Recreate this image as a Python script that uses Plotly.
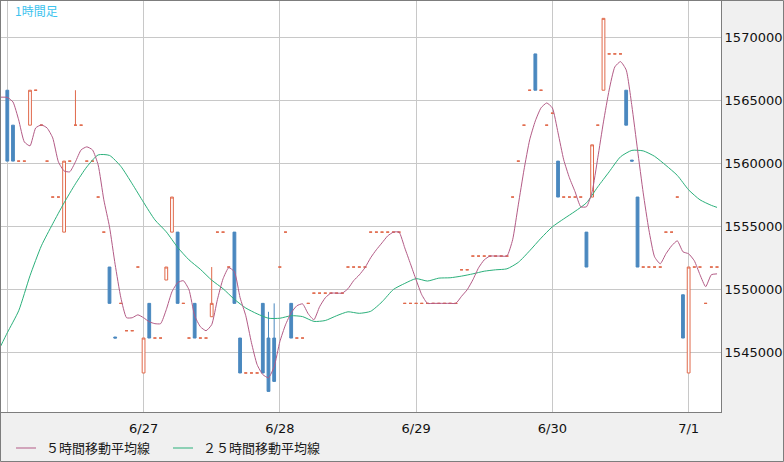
import pandas as pd
import plotly.graph_objects as go

start = pd.Timestamp("2025-06-26 00:00")

# 1時間足 (6/26 00:00 .. 7/1 05:00)
opens = [
    15658000, 15630300, 15601800, 15601800, 15630300, 15658000, 15630300, 15601800, 15573300, 15573300,
    15545500, 15601800, 15630300, 15630300, 15601800, 15601800, 15573300, 15545500, 15517800, 15462300,
    15489000, 15467300, 15467300, 15517800, 15433800, 15489000, 15461500, 15461500, 15507500, 15545500,
    15545500, 15489000, 15461500, 15489000, 15461500, 15461500, 15478400, 15545500, 15545500, 15517800,
    15545500, 15461500, 15433800, 15433800, 15433800, 15489000, 15461500, 15461500, 15517800, 15545500,
    15489000, 15461500, 15461500, 15489000, 15497100, 15497100, 15497100, 15497100, 15497100, 15497100,
    15517800, 15517800, 15517800, 15517800, 15545500, 15545500, 15545500, 15545500, 15545500, 15545500,
    15489000, 15489000, 15489000, 15489000, 15489000, 15489000, 15489000, 15489000, 15489000, 15489000,
    15515600, 15515600, 15526500, 15526500, 15526500, 15526500, 15526500, 15526500, 15526500, 15573300,
    15601800, 15630300, 15658000, 15686800, 15658000, 15630300, 15639800, 15601800, 15573300, 15573300,
    15573300, 15573300, 15545500, 15573300, 15630300, 15658000, 15686800, 15686800, 15686800, 15658000,
    15602600, 15573300, 15517800, 15517800, 15517800, 15517800, 15545500, 15545500, 15573300, 15495800,
    15433800, 15517800, 15517800, 15489000, 15517800, 15517800,
]
highs = [
    15658000, 15630300, 15601800, 15601800, 15658000, 15658000, 15630300, 15601800, 15573300, 15573300,
    15601800, 15601800, 15658000, 15630300, 15601800, 15601800, 15573300, 15545500, 15517800, 15462300,
    15489000, 15467300, 15467300, 15517800, 15461500, 15489000, 15461500, 15461500, 15517800, 15573300,
    15545500, 15489000, 15461500, 15489000, 15461500, 15461500, 15517800, 15545500, 15545500, 15517800,
    15545500, 15461500, 15433800, 15433800, 15433800, 15489000, 15482300, 15489000, 15517800, 15545500,
    15489000, 15461500, 15461500, 15489000, 15497100, 15497100, 15497100, 15497100, 15497100, 15497100,
    15517800, 15517800, 15517800, 15517800, 15545500, 15545500, 15545500, 15545500, 15545500, 15545500,
    15489000, 15489000, 15489000, 15489000, 15489000, 15489000, 15489000, 15489000, 15489000, 15489000,
    15515600, 15515600, 15526500, 15526500, 15526500, 15526500, 15526500, 15526500, 15526500, 15573300,
    15601800, 15630300, 15658000, 15686800, 15658000, 15630300, 15639800, 15601800, 15573300, 15573300,
    15573300, 15573300, 15545500, 15614700, 15630300, 15715000, 15686800, 15686800, 15686800, 15658000,
    15602600, 15573300, 15517800, 15517800, 15517800, 15517800, 15545500, 15545500, 15573300, 15495800,
    15517800, 15517800, 15517800, 15489000, 15517800, 15517800,
]
lows = [
    15601800, 15601800, 15601800, 15601800, 15630300, 15658000, 15630300, 15601800, 15573300, 15573300,
    15545500, 15601800, 15630300, 15630300, 15601800, 15601800, 15573300, 15545500, 15489000, 15461500,
    15489000, 15467300, 15467300, 15517800, 15433800, 15461500, 15461500, 15461500, 15507500, 15545500,
    15489000, 15489000, 15461500, 15461500, 15461500, 15461500, 15478400, 15545500, 15545500, 15517800,
    15489000, 15433800, 15433800, 15433800, 15433800, 15433800, 15419200, 15427100, 15517800, 15545500,
    15461500, 15461500, 15461500, 15489000, 15497100, 15497100, 15497100, 15497100, 15497100, 15497100,
    15517800, 15517800, 15517800, 15517800, 15545500, 15545500, 15545500, 15545500, 15545500, 15545500,
    15489000, 15489000, 15489000, 15489000, 15489000, 15489000, 15489000, 15489000, 15489000, 15489000,
    15515600, 15515600, 15526500, 15526500, 15526500, 15526500, 15526500, 15526500, 15526500, 15573300,
    15601800, 15630300, 15658000, 15658000, 15658000, 15630300, 15639800, 15573300, 15573300, 15573300,
    15573300, 15573300, 15517800, 15573300, 15630300, 15658000, 15686800, 15686800, 15686800, 15630300,
    15601800, 15517800, 15517800, 15517800, 15517800, 15517800, 15545500, 15545500, 15573300, 15461500,
    15433800, 15517800, 15517800, 15489000, 15517800, 15517800,
]
closes = [
    15601800, 15601800, 15601800, 15601800, 15658000, 15658000, 15630300, 15601800, 15573300, 15573300,
    15601800, 15601800, 15630300, 15630300, 15601800, 15601800, 15573300, 15545500, 15489000, 15461500,
    15489000, 15467300, 15467300, 15517800, 15461500, 15461500, 15461500, 15461500, 15517800, 15573300,
    15489000, 15489000, 15461500, 15461500, 15461500, 15461500, 15489000, 15545500, 15545500, 15517800,
    15489000, 15433800, 15433800, 15433800, 15433800, 15433800, 15419200, 15427100, 15517800, 15545500,
    15461500, 15461500, 15461500, 15489000, 15497100, 15497100, 15497100, 15497100, 15497100, 15497100,
    15517800, 15517800, 15517800, 15517800, 15545500, 15545500, 15545500, 15545500, 15545500, 15545500,
    15489000, 15489000, 15489000, 15489000, 15489000, 15489000, 15489000, 15489000, 15489000, 15489000,
    15515600, 15515600, 15526500, 15526500, 15526500, 15526500, 15526500, 15526500, 15526500, 15573300,
    15601800, 15630300, 15658000, 15658000, 15658000, 15630300, 15639800, 15573300, 15573300, 15573300,
    15573300, 15573300, 15517800, 15614700, 15630300, 15715000, 15686800, 15686800, 15686800, 15630300,
    15601800, 15517800, 15517800, 15517800, 15517800, 15517800, 15545500, 15545500, 15573300, 15461500,
    15517800, 15517800, 15517800, 15489000, 15517800, 15517800,
]

# moving averages as drawn (hours from 6/26 00:00)
ma5_hours = [-1.2] + list(range(126))
ma5 = [
    15652500,
    15652300, 15648700, 15634500, 15617000, 15613900, 15628100, 15630500, 15628100, 15620200, 15601200,
    15594000, 15593300, 15601200, 15610700, 15613100, 15610700, 15598800, 15571100, 15549700, 15519600,
    15493400, 15477600, 15477600, 15479900, 15477600, 15474400, 15472900, 15472900, 15484000, 15498200,
    15505400, 15507000, 15499800, 15479200, 15470500, 15467300, 15472100, 15491900, 15508500, 15517300,
    15514100, 15493500, 15479200, 15457800, 15440400, 15432500, 15430000, 15438800, 15458600, 15472000,
    15481500, 15487100, 15488600, 15480700, 15476000, 15486300, 15493400, 15497100, 15497100, 15497100,
    15500600, 15507000, 15511600, 15517300, 15525200, 15531500, 15537000, 15542500, 15545500, 15545500,
    15533000, 15520400, 15507700, 15495800, 15489000, 15489000, 15489000, 15489000, 15489000, 15489000,
    15494600, 15499800, 15507700, 15517200, 15523500, 15526500, 15526500, 15526500, 15526500, 15539400,
    15567100, 15594800, 15618600, 15633700, 15644000, 15647900, 15644000, 15624200, 15602800, 15588600,
    15577500, 15565600, 15565600, 15577500, 15604400, 15632900, 15658200, 15676500, 15680700, 15674100,
    15645600, 15610700, 15576600, 15547300, 15525900, 15520400, 15528300, 15534600, 15538600, 15529900,
    15528300, 15522800, 15511700, 15502200, 15511700, 15512400,
]
ma25_hours = [-1.2] + list(range(0, 126, 2)) + [125]
ma25 = [
    15454800,
    15465700, 15483100, 15510900, 15534600, 15552100, 15568700, 15583800, 15597200, 15606700, 15606300,
    15597600, 15583800, 15569100, 15555200, 15545700, 15533400, 15523500, 15516000, 15507400, 15500600,
    15492200, 15485300, 15480700, 15477200, 15477200, 15479200, 15478500, 15474700, 15475400, 15479200,
    15482300, 15481100, 15482700, 15490200, 15500000, 15504800, 15508600, 15506700, 15509000, 15509300,
    15510600, 15512400, 15514500, 15515600, 15516400, 15521500, 15530700, 15540700, 15549700, 15556000,
    15562000, 15568700, 15581400, 15593300, 15605200, 15610300, 15609900, 15605600, 15598400, 15590500,
    15579000, 15571100, 15566700,
    15565100,
]

day_ticks = ["2025-06-26", "2025-06-27", "2025-06-28", "2025-06-29", "2025-06-30", "2025-07-01"]
day_labels = ["", "6/27", "6/28", "6/29", "6/30", "7/1"]
price_ticks = [15450000, 15500000, 15550000, 15600000, 15650000, 15700000]

UP = "#e0694b"
DOWN = "#4a88bf"
MA5_COLOR = "#b35b86"
MA25_COLOR = "#2bb07b"
GRID = "#c8c8c8"
BORDER = "#7d7d7d"


def at(hours):
    return [start + pd.Timedelta(hours=h) for h in hours]


times = at(range(len(closes)))
up = [k for k in range(len(closes)) if closes[k] >= opens[k]]
down = [k for k in range(len(closes)) if closes[k] < opens[k]]


def candles(idx, color, fill):
    style = dict(line=dict(color=color, width=1), fillcolor=fill)
    return go.Candlestick(
        x=[times[k] for k in idx],
        open=[opens[k] for k in idx],
        high=[highs[k] for k in idx],
        low=[lows[k] for k in idx],
        close=[closes[k] for k in idx],
        increasing=style, decreasing=style,
        whiskerwidth=0, showlegend=False,
    )


fig = go.Figure()
fig.add_trace(candles(up, UP, "white"))
fig.add_trace(candles(down, DOWN, DOWN))
fig.add_trace(go.Scatter(x=at(ma25_hours), y=ma25, mode="lines",
                         line=dict(color=MA25_COLOR, width=1, shape="spline", smoothing=0.6),
                         name="２５時間移動平均線", showlegend=False))
fig.add_trace(go.Scatter(x=at(ma5_hours), y=ma5, mode="lines",
                         line=dict(color=MA5_COLOR, width=1, shape="spline", smoothing=0.5),
                         name="５時間移動平均線", showlegend=False))

tick_font = dict(family="DejaVu Sans", size=13, color="#111111")

fig.update_layout(
    template="none",
    width=784, height=462,
    margin=dict(l=1, r=63, t=1, b=50),
    paper_bgcolor="#f0f0f0",
    plot_bgcolor="white",
    showlegend=False,
    xaxis=dict(
        type="date",
        range=[start - pd.Timedelta(hours=1.11), start + pd.Timedelta(hours=125.7)],
        tickvals=day_ticks, ticktext=day_labels,
        showgrid=True, gridcolor=GRID, gridwidth=1, zeroline=False,
        showline=True, mirror=True, linecolor=BORDER, linewidth=1,
        ticks="", tickfont=tick_font, automargin=False, ticklabelstandoff=4,
        rangeslider=dict(visible=False),
    ),
    yaxis=dict(
        side="right",
        range=[15402850, 15728760],
        tickvals=price_ticks, ticktext=[str(v) for v in price_ticks],
        showgrid=True, gridcolor=GRID, gridwidth=1, zeroline=False,
        showline=True, mirror=True, linecolor=BORDER, linewidth=1,
        ticks="", tickfont=tick_font, automargin=False,
    ),
)

# outer frame
fig.add_shape(type="rect", xref="paper", yref="paper",
              x0=-0.5 / 720, x1=782.5 / 720, y0=-49.5 / 411, y1=1 + 0.5 / 411,
              line=dict(color=BORDER, width=1), layer="above")

legend_font = dict(family="Noto Sans CJK JP", size=13, color="#1a1a1a")
for x0, color, label in [(16, MA5_COLOR, "５時間移動平均線"), (173, MA25_COLOR, "２５時間移動平均線")]:
    fig.add_shape(type="line", xref="paper", yref="paper",
                  x0=(x0 - 1) / 720, x1=(x0 + 19) / 720, y0=-36 / 411, y1=-36 / 411,
                  line=dict(color=color, width=1))
    fig.add_annotation(xref="paper", yref="paper", x=(x0 + 27) / 720, y=-36 / 411,
                       xanchor="left", yanchor="middle", showarrow=False,
                       text=label, font=legend_font)

fig.add_annotation(xref="paper", yref="paper", x=12 / 720, y=(412 - 11) / 411,
                   xanchor="left", yanchor="middle", showarrow=False,
                   text="1時間足", font=dict(family="Noto Sans CJK JP", size=12, color="#3cc3ee"))

# the page has a default 8px body margin; drop it so the chart sits at the corner
fig.write_html("out.html", config={"displayModeBar": False},
               post_script="document.body.style.margin = '0';")
